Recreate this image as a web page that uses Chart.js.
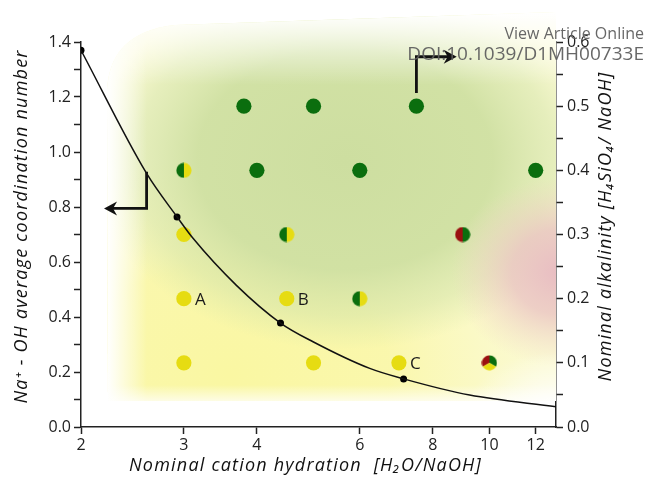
<!DOCTYPE html>
<html>
<head>
<meta charset="utf-8">
<script src="https://cdn.jsdelivr.net/npm/chart.js@4.4.1/dist/chart.umd.min.js"></script>
<style>
  html, body { margin: 0; padding: 0; background: #fff; }
  canvas { display: block; }
</style>
</head>
<body>
<canvas id="chart" width="647" height="477"></canvas>
<script>
// Axis ticks
const xTickValues = [2, 3, 4, 6, 8, 10, 12];

// Axis titles
const xTitle = 'Nominal cation hydration  [H\u2082O/NaOH]';
const yTitle = 'Na\u207A - OH average coordination number';
const y2Title = 'Nominal alkalinity [H\u2084SiO\u2084/ NaOH]';

// Na-OH coordination curve (left axis)
const curveX = [2, 2.59, 2.92, 3.11, 3.69, 4.39, 4.99, 6.24, 7.13, 9.25, 13];
const curveY = [1.37, 0.922, 0.764, 0.686, 0.515, 0.378, 0.31, 0.213, 0.175, 0.116, 0.074];
const dotX = [2, 2.92, 4.39, 7.13];
const dotY = [1.37, 0.764, 0.378, 0.175];

// Compositions (right axis): hydration vs alkalinity
const greenX = [3.8, 5, 7.5, 4, 6, 12];
const greenY = [0.5, 0.5, 0.5, 0.4, 0.4, 0.4];
const yellowX = [3, 3, 4.5, 3, 5, 7];
const yellowY = [0.3, 0.2, 0.2, 0.1, 0.1, 0.1];
const greenYellowX = [3, 4.5, 6];
const greenYellowY = [0.4, 0.3, 0.2];
const redGreenX = [9];
const redGreenY = [0.3];
const tripleX = [10];
const tripleY = [0.1];

// Point labels
const labelText = ['A', 'B', 'C'];
const labelX = [3, 4.5, 7];
const labelY = [0.2, 0.2, 0.1];

// Arrows (data units)
const arrowLeftX = [2.59, 2.59, 2.19];
const arrowLeftY = [0.928, 0.795, 0.795];
const arrowRightX = [7.5, 7.5, 8.79];
const arrowRightY = [0.5205, 0.577, 0.577];

const GREEN = '#0b6e0e';
const YELLOW = '#e6dc12';
const RED = '#9a1010';

function pairs(xs, ys) {
    return xs.map((x, i) => ({ x: x, y: ys[i] }));
}

// split-circle markers
function makeMarker(sectors) {
    const c = document.createElement('canvas');
    c.width = 16; c.height = 16;
    const g = c.getContext('2d');
    sectors.forEach(s => {
        g.beginPath();
        g.moveTo(8, 8);
        g.arc(8, 8, 7.6, s[0] * Math.PI / 180, s[1] * Math.PI / 180);
        g.closePath();
        g.fillStyle = s[2];
        g.fill();
    });
    return c;
}
const markerGY = makeMarker([[90, 270, GREEN], [-90, 90, YELLOW]]);
const markerRG = makeMarker([[90, 270, RED], [-90, 90, GREEN]]);
const markerRGY = makeMarker([[150, 270, RED], [270, 390, GREEN], [30, 150, YELLOW]]);

function ellipseGlow(ctx, cx, cy, rx, ry, stops) {
    ctx.save();
    ctx.translate(cx, cy);
    ctx.scale(1, ry / rx);
    const g = ctx.createRadialGradient(0, 0, 0, 0, 0, rx);
    stops.forEach(s => g.addColorStop(s[0], s[1]));
    ctx.fillStyle = g;
    ctx.fillRect(-rx, -rx, rx * 2, rx * 2);
    ctx.restore();
}

const backgroundPlugin = {
    id: 'background',
    beforeDatasetsDraw(chart) {
        const { ctx, chartArea: a } = chart;
        const L = a.left, B = a.bottom, R = a.right;
        ctx.save();
        ctx.beginPath();
        ctx.moveTo(L + 27, B - 26);
        ctx.lineTo(L + 26, 90);
        ctx.quadraticCurveTo(L + 29, 32, L + 94, 25);
        ctx.lineTo(R, 12);
        ctx.lineTo(R, B - 26);
        ctx.closePath();
        ctx.clip();

        ctx.fillStyle = 'rgb(251,250,212)';
        ctx.fillRect(0, 0, chart.width, chart.height);

        // yellow lower band
        ellipseGlow(ctx, 230, 375, 320, 220, [
            [0, 'rgba(250,247,162,1)'], [0.5, 'rgba(250,247,168,0.9)'], [1, 'rgba(250,248,180,0)']
        ]);
        // green body
        ellipseGlow(ctx, 345, 160, 255, 190, [
            [0, 'rgba(205,222,160,1)'], [0.58, 'rgba(207,224,162,0.95)'], [0.82, 'rgba(212,228,168,0.55)'], [1, 'rgba(215,230,170,0)']
        ]);
        // pink right
        ellipseGlow(ctx, R + 5, 272, 110, 95, [
            [0, 'rgba(232,188,194,1)'], [0.45, 'rgba(234,196,194,0.8)'], [1, 'rgba(240,215,195,0)']
        ]);

        let g = ctx.createLinearGradient(0, 12, 0, 85);
        g.addColorStop(0, 'rgba(255,255,255,1)');
        g.addColorStop(1, 'rgba(255,255,255,0)');
        ctx.fillStyle = g;
        ctx.fillRect(0, 0, chart.width, 90);

        g = ctx.createLinearGradient(L + 26, 0, L + 66, 0);
        g.addColorStop(0, 'rgba(255,255,255,1)');
        g.addColorStop(1, 'rgba(255,255,255,0)');
        ctx.fillStyle = g;
        ctx.fillRect(0, 0, L + 66, chart.height);

        g = ctx.createLinearGradient(0, B - 26, 0, B - 42);
        g.addColorStop(0, 'rgba(255,255,255,0.7)');
        g.addColorStop(1, 'rgba(255,255,255,0)');
        ctx.fillStyle = g;
        ctx.fillRect(0, B - 44, chart.width, 20);

        ellipseGlow(ctx, R, B - 15, 90, 60, [
            [0, 'rgba(255,255,255,1)'], [1, 'rgba(255,255,255,0)']
        ]);
        ctx.restore();
    }
};

function drawArrow(ctx, pts) {
    ctx.save();
    ctx.strokeStyle = '#111';
    ctx.fillStyle = '#111';
    ctx.lineWidth = 2.8;
    ctx.lineJoin = 'miter';
    ctx.beginPath();
    ctx.moveTo(pts[0][0], pts[0][1]);
    ctx.lineTo(pts[1][0], pts[1][1]);
    const n = pts.length;
    const tip = pts[n - 1], prev = pts[n - 2];
    const ang = Math.atan2(tip[1] - prev[1], tip[0] - prev[0]);
    ctx.lineTo(tip[0] - Math.cos(ang) * 6, tip[1] - Math.sin(ang) * 6);
    ctx.stroke();
    ctx.translate(tip[0], tip[1]);
    ctx.rotate(ang);
    ctx.beginPath();
    ctx.moveTo(0, 0);
    ctx.lineTo(-13, -7);
    ctx.lineTo(-9, 0);
    ctx.lineTo(-13, 7);
    ctx.closePath();
    ctx.fill();
    ctx.restore();
}

function drawTitle(ctx, text, x, y, rot) {
    ctx.save();
    ctx.translate(x, y);
    ctx.rotate(rot);
    ctx.font = 'italic 18px "Open Sans"';
    ctx.letterSpacing = '1.2px';
    ctx.fillStyle = '#111';
    ctx.textAlign = 'center';
    ctx.textBaseline = 'middle';
    ctx.fillText(text, 0, 0);
    ctx.restore();
}

const annotationPlugin = {
    id: 'annotations',
    afterDatasetsDraw(chart) {
        const { ctx, scales } = chart;
        const sx = scales.x, sy = scales.y, sy2 = scales.y2;
        ctx.save();
        ctx.font = '17px "Open Sans"';
        ctx.fillStyle = '#1a1a1a';
        ctx.textBaseline = 'middle';
        labelText.forEach((t, i) => {
            ctx.fillText(t, sx.getPixelForValue(labelX[i]) + 11, sy2.getPixelForValue(labelY[i]) + 1);
        });
        ctx.restore();
        drawArrow(ctx, arrowLeftX.map((x, i) => [sx.getPixelForValue(x), sy.getPixelForValue(arrowLeftY[i])]));
        drawArrow(ctx, arrowRightX.map((x, i) => [sx.getPixelForValue(x), sy2.getPixelForValue(arrowRightY[i])]));
    },
    afterDraw(chart) {
        const { ctx, chartArea: a } = chart;
        const midY = (a.top + a.bottom) / 2 - 8;
        drawTitle(ctx, xTitle, (a.left + a.right) / 2 - 13, 466, 0);
        drawTitle(ctx, yTitle, 22, midY, -Math.PI / 2);
        drawTitle(ctx, y2Title, 606, midY, -Math.PI / 2);

        ctx.save();
        ctx.fillStyle = 'rgba(95,95,95,0.95)';
        ctx.textAlign = 'right';
        ctx.textBaseline = 'middle';
        ctx.font = '16px "Open Sans"';
        ctx.fillText('View Article Online', 644, 34);
        ctx.font = '19px "Open Sans"';
        ctx.fillText('DOI:10.1039/D1MH00733E', 644, 55);
        ctx.restore();
    }
};

const tickFont = { family: 'Open Sans', size: 16 };
const axisGrid = { drawOnChartArea: false, drawTicks: true, tickLength: 7, tickWidth: 1.5, tickColor: '#222' };
const axisBorder = { display: true, color: '#222', width: 1.5 };

new Chart(document.getElementById('chart'), {
    type: 'scatter',
    data: {
        datasets: [
            {
                label: 'Coordination fit',
                data: pairs(curveX, curveY),
                showLine: true,
                borderColor: '#111',
                borderWidth: 1.5,
                pointRadius: 0,
                cubicInterpolationMode: 'monotone',
                yAxisID: 'y'
            },
            {
                label: 'Coordination',
                data: pairs(dotX, dotY),
                backgroundColor: '#000',
                borderWidth: 0,
                pointRadius: 3.5,
                yAxisID: 'y'
            },
            {
                label: 'Green',
                data: pairs(greenX, greenY),
                backgroundColor: GREEN,
                borderWidth: 0,
                pointRadius: 7.6,
                yAxisID: 'y2'
            },
            {
                label: 'Yellow',
                data: pairs(yellowX, yellowY),
                backgroundColor: YELLOW,
                borderWidth: 0,
                pointRadius: 7.6,
                yAxisID: 'y2'
            },
            {
                label: 'Green / yellow',
                data: pairs(greenYellowX, greenYellowY),
                pointStyle: markerGY,
                yAxisID: 'y2'
            },
            {
                label: 'Red / green',
                data: pairs(redGreenX, redGreenY),
                pointStyle: markerRG,
                yAxisID: 'y2'
            },
            {
                label: 'Red / green / yellow',
                data: pairs(tripleX, tripleY),
                pointStyle: markerRGY,
                yAxisID: 'y2'
            }
        ]
    },
    options: {
        responsive: false,
        devicePixelRatio: 1,
        animation: false,
        events: [],
        layout: { padding: { top: 42, left: 0, right: 0, bottom: 0 } },
        plugins: {
            legend: { display: false },
            tooltip: { enabled: false }
        },
        scales: {
            x: {
                type: 'logarithmic',
                min: 2,
                max: 13,
                afterBuildTicks: scale => { scale.ticks = xTickValues.map(v => ({ value: v })); },
                afterFit: scale => { scale.height = 50; },
                ticks: { font: tickFont, color: '#222', padding: 2, callback: v => String(v), maxRotation: 0, autoSkip: false },
                grid: axisGrid,
                border: axisBorder
            },
            y: {
                position: 'left',
                min: 0,
                max: 1.4,
                afterFit: scale => { scale.width = 81; },
                ticks: {
                    stepSize: 0.1,
                    font: tickFont,
                    color: '#222',
                    padding: 3,
                    callback: v => (Math.round(v * 10) % 2 === 0 ? v.toFixed(1) : '')
                },
                grid: axisGrid,
                border: axisBorder
            },
            y2: {
                position: 'right',
                min: 0,
                max: 0.6,
                afterFit: scale => { scale.width = 91; },
                ticks: {
                    stepSize: 0.05,
                    font: tickFont,
                    color: '#222',
                    padding: 4,
                    callback: v => (Math.round(v * 20) % 2 === 0 ? v.toFixed(1) : '')
                },
                grid: axisGrid,
                border: axisBorder
            }
        }
    },
    plugins: [backgroundPlugin, annotationPlugin]
});
</script>
</body>
</html>
